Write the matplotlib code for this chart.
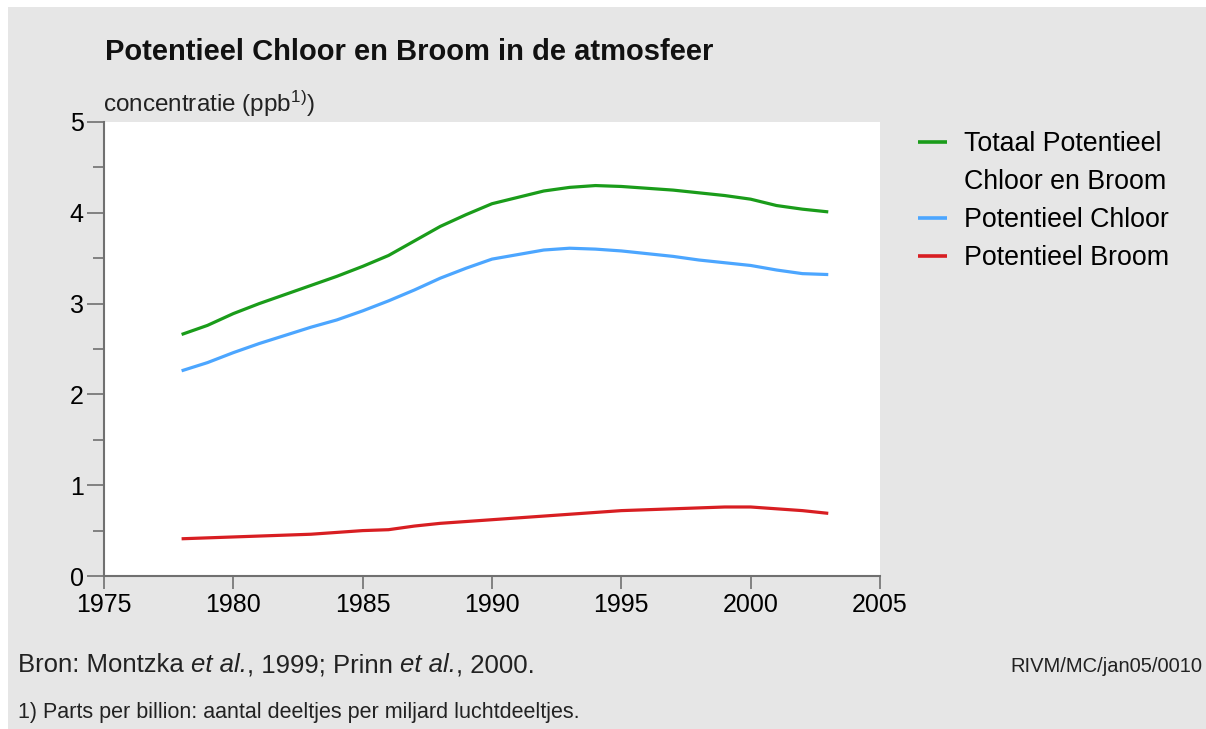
import matplotlib
matplotlib.use("Agg")
import matplotlib.pyplot as plt
from matplotlib.lines import Line2D
from matplotlib.patches import Rectangle
from matplotlib.ticker import MultipleLocator

plt.rcParams['font.family'] = ['Liberation Sans', 'DejaVu Sans']
plt.rcParams['mathtext.fontset'] = 'custom'
plt.rcParams['mathtext.rm'] = 'Liberation Sans'
plt.rcParams['mathtext.it'] = 'Liberation Sans:italic'
plt.rcParams['mathtext.bf'] = 'Liberation Sans:bold'

years = list(range(1978, 2004))
totaal = [2.66, 2.76, 2.89, 3.00, 3.10, 3.20, 3.30, 3.41, 3.53, 3.69, 3.85, 3.98, 4.10,
          4.17, 4.24, 4.28, 4.30, 4.29, 4.27, 4.25, 4.22, 4.19, 4.15, 4.08, 4.04, 4.01]
chloor = [2.26, 2.35, 2.46, 2.56, 2.65, 2.74, 2.82, 2.92, 3.03, 3.15, 3.28, 3.39, 3.49,
          3.54, 3.59, 3.61, 3.60, 3.58, 3.55, 3.52, 3.48, 3.45, 3.42, 3.37, 3.33, 3.32]
broom = [0.41, 0.42, 0.43, 0.44, 0.45, 0.46, 0.48, 0.50, 0.51, 0.55, 0.58, 0.60, 0.62,
         0.64, 0.66, 0.68, 0.70, 0.72, 0.73, 0.74, 0.75, 0.76, 0.76, 0.74, 0.72, 0.69]

x_ticks = [1975, 1980, 1985, 1990, 1995, 2000, 2005]
y_ticks = [0, 1, 2, 3, 4, 5]

labels = ["Totaal Potentieel", "Chloor en Broom", "Potentieel Chloor", "Potentieel Broom"]
bron_parts = [("Bron: Montzka ", "normal"), ("et al.", "italic"),
              (", 1999; Prinn ", "normal"), ("et al.", "italic"), (", 2000.", "normal")]
c_green = "#1a9c1a"
c_blue = "#4ca6ff"
c_red = "#d81e22"
bg = "#e6e6e6"
W, H = 1206, 729

fig = plt.figure(figsize=(W / 100, H / 100), dpi=100, facecolor="white")
fig.patches.append(Rectangle((8 / W, 0), 1, 1 - 7 / H, transform=fig.transFigure,
                             facecolor=bg, edgecolor="none", zorder=-10))

ax = fig.add_axes([104 / W, 1 - 576 / H, (880 - 104) / W, (576 - 122) / H])
ax.set_facecolor("white")
lw = 2.3
l1, = ax.plot(years, totaal, color=c_green, lw=lw, solid_capstyle="butt")
l2, = ax.plot(years, chloor, color=c_blue, lw=lw, solid_capstyle="butt")
l3, = ax.plot(years, broom, color=c_red, lw=lw, solid_capstyle="butt")

ax.set_xlim(1975, 2005)
ax.set_ylim(0, 5)
ax.set_xticks(x_ticks)
ax.set_yticks(y_ticks)
ax.yaxis.set_minor_locator(MultipleLocator(0.5))
for s in ["top", "right"]:
    ax.spines[s].set_visible(False)
for s in ["left", "bottom"]:
    ax.spines[s].set_color("#707070")
    ax.spines[s].set_linewidth(1.5)
ax.tick_params(axis="y", which="major", length=12.5, width=1.2, color="#707070",
               pad=2, labelsize=18)
ax.tick_params(axis="y", which="minor", length=8, width=1.2, color="#707070")
ax.tick_params(axis="x", which="major", length=9.5, width=1.2, color="#707070",
               pad=3, labelsize=18)

blank = Line2D([], [], color="none")
leg = fig.legend([l1, blank, l2, l3], labels, loc="upper left",
                 bbox_to_anchor=(918 / W, 1 - 131 / H), frameon=False,
                 fontsize=19.3, handlelength=1.1, handletextpad=0.6,
                 labelspacing=0.45, borderaxespad=0, borderpad=0)
for line in leg.get_lines():
    line.set_linewidth(2.6)

fig.text(105 / W, 1 - 60 / H, "Potentieel Chloor en Broom in de atmosfeer",
         fontsize=21, fontweight="bold", va="baseline", ha="left", color="#111111")
fig.text(103 / W, 1 - 112 / H, r"concentratie (ppb$^{1)}$)",
         fontsize=17.5, va="baseline", ha="left", color="#222222")

# source line built from normal and italic pieces
renderer = fig.canvas.get_renderer()
x_px = 18
for txt, style in bron_parts:
    t = fig.text(x_px / W, 1 - 672 / H, txt, fontsize=18.5, fontstyle=style,
                 va="baseline", ha="left", color="#222222")
    x_px += t.get_window_extent(renderer=renderer).width

fig.text(1010 / W, 1 - 672 / H, "RIVM/MC/jan05/0010",
         fontsize=14.5, va="baseline", ha="left", color="#222222")
fig.text(18 / W, 1 - 718 / H,
         "1) Parts per billion: aantal deeltjes per miljard luchtdeeltjes.",
         fontsize=15.5, va="baseline", ha="left", color="#222222")

fig.savefig("out.png", dpi=100, facecolor=fig.get_facecolor())
